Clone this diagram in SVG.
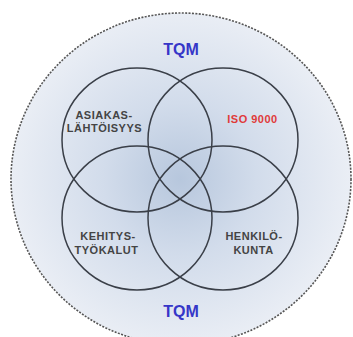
<svg xmlns="http://www.w3.org/2000/svg" width="353" height="337" viewBox="0 0 353 337">
<defs>
<radialGradient id="bg" cx="180" cy="179" r="170" gradientUnits="userSpaceOnUse">
<stop offset="0" stop-color="#b7c7dd"/>
<stop offset="0.45" stop-color="#d2dceb"/>
<stop offset="1" stop-color="#eaeef5"/>
</radialGradient>
<style>
.ring{fill:none;stroke:#3a3f48;stroke-width:1.5}
.lbl{font-family:"Liberation Sans",Arial,sans-serif;font-weight:bold;font-size:11px;fill:#444;text-anchor:middle;letter-spacing:0.5px}
.tqm{font-family:"Liberation Sans",Arial,sans-serif;font-weight:bold;font-size:16px;fill:#3636c8;text-anchor:middle}
.iso{fill:#e03a3a}
</style>
</defs>
<rect width="353" height="337" fill="#ffffff"/>
<g id="tqm-area">
<ellipse cx="181" cy="179" rx="170" ry="166" fill="url(#bg)" stroke="#555" stroke-width="1.6" stroke-dasharray="2 1.4"/>
<text class="tqm" x="181" y="55">TQM</text>
<text class="tqm" x="181" y="317">TQM</text>
</g>
<g id="asiakaslahtoisyys">
<ellipse class="ring" cx="137" cy="140" rx="75" ry="72"/>
<text class="lbl" x="104" y="118.5">ASIAKAS-</text>
<text class="lbl" x="104.5" y="132">LÄHTÖISYYS</text>
</g>
<g id="iso9000">
<ellipse class="ring" cx="223" cy="140" rx="75" ry="72"/>
<text class="lbl iso" x="252.5" y="123">ISO 9000</text>
</g>
<g id="kehitystyokalut">
<ellipse class="ring" cx="137" cy="218" rx="75" ry="72"/>
<text class="lbl" x="108" y="240">KEHITYS-</text>
<text class="lbl" x="106.5" y="254">TYÖKALUT</text>
</g>
<g id="henkilokunta">
<ellipse class="ring" cx="223" cy="218" rx="75" ry="72"/>
<text class="lbl" x="254" y="240">HENKILÖ-</text>
<text class="lbl" x="253.5" y="254">KUNTA</text>
</g>
<g id="connectors"></g>
</svg>
